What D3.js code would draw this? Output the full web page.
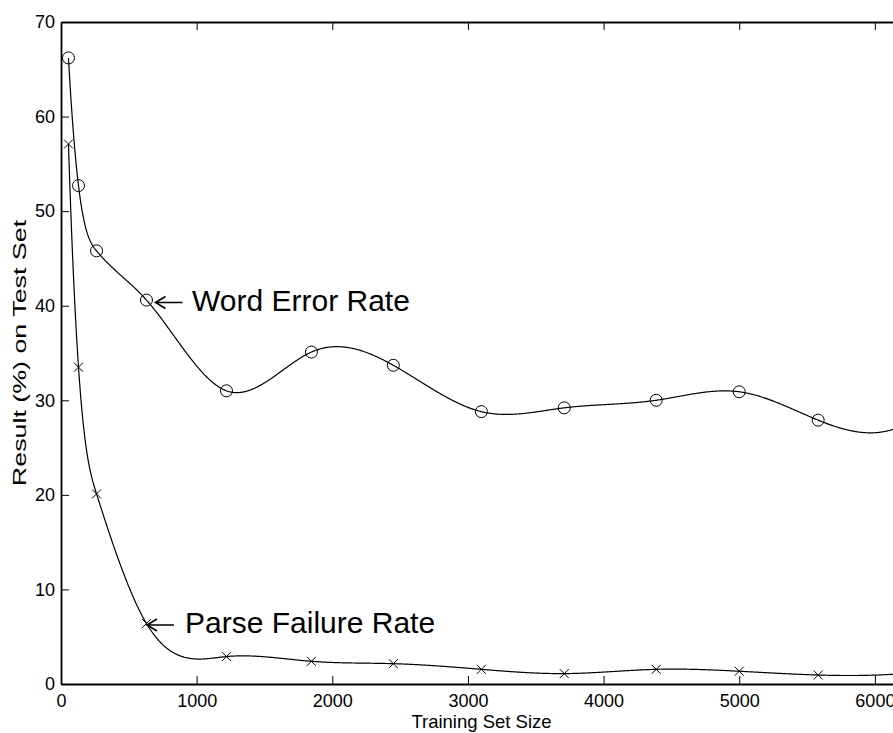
<!DOCTYPE html>
<html>
<head>
<meta charset="utf-8">
<script src="https://cdn.jsdelivr.net/npm/d3@7"></script>
<style>
  html, body { margin: 0; padding: 0; background: #fff; }
  svg { display: block; }
  text { font-family: "Liberation Sans", Arial, Helvetica, sans-serif; fill: #000; }
</style>
</head>
<body>
<svg id="chart" width="893" height="733"></svg>
<script>
// ---- data ----
const trainingSize = [55, 129, 262, 630, 1220, 1846, 2450, 3099, 3710, 4388, 5000, 5582, 6200];
const wordErrorRate = [66.2, 52.7, 45.8, 40.6, 31.0, 35.1, 33.7, 28.8, 29.2, 30.0, 30.9, 27.9, 27.3];
const parseFailureRate = [57.1, 33.5, 20.1, 6.4, 2.9, 2.4, 2.15, 1.55, 1.1, 1.55, 1.35, 0.95, 1.1];
const xTicks = [0, 1000, 2000, 3000, 4000, 5000, 6000];
const yTicks = [0, 10, 20, 30, 40, 50, 60, 70];
const xDomain = [0, 6200];
const yDomain = [0, 70];
const xLabel = "Training Set Size";
const yLabel = "Result (%) on Test Set";
const wordLabel = "Word Error Rate";
const parseLabel = "Parse Failure Rate";

// ---- layout ----
const mLeft = 61, mTop = 22, mRight = 902, mBottom = 684;
const svg = d3.select("#chart");
const x = d3.scaleLinear().domain(xDomain).range([mLeft, mRight]);
const y = d3.scaleLinear().domain(yDomain).range([mBottom, mTop]);

// not-a-knot cubic spline (like MATLAB's spline) used only to draw the smooth line
function splineFn(xs, ys) {
  const n = xs.length;
  const h = [];
  for (let i = 0; i < n - 1; i++) h.push(xs[i + 1] - xs[i]);
  const A = Array.from({length: n}, () => new Array(n).fill(0));
  const b = new Array(n).fill(0);
  A[0][0] = h[1]; A[0][1] = -(h[0] + h[1]); A[0][2] = h[0];
  for (let i = 1; i < n - 1; i++) {
    A[i][i - 1] = h[i - 1];
    A[i][i] = 2 * (h[i - 1] + h[i]);
    A[i][i + 1] = h[i];
    b[i] = 6 * ((ys[i + 1] - ys[i]) / h[i] - (ys[i] - ys[i - 1]) / h[i - 1]);
  }
  A[n - 1][n - 3] = h[n - 2]; A[n - 1][n - 2] = -(h[n - 3] + h[n - 2]); A[n - 1][n - 1] = h[n - 3];
  for (let c = 0; c < n; c++) {
    let p = c;
    for (let r = c + 1; r < n; r++) if (Math.abs(A[r][c]) > Math.abs(A[p][c])) p = r;
    [A[c], A[p]] = [A[p], A[c]]; [b[c], b[p]] = [b[p], b[c]];
    for (let r = c + 1; r < n; r++) {
      const f = A[r][c] / A[c][c];
      if (f === 0) continue;
      for (let k = c; k < n; k++) A[r][k] -= f * A[c][k];
      b[r] -= f * b[c];
    }
  }
  const M = new Array(n).fill(0);
  for (let r = n - 1; r >= 0; r--) {
    let s = b[r];
    for (let k = r + 1; k < n; k++) s -= A[r][k] * M[k];
    M[r] = s / A[r][r];
  }
  return function (t) {
    let i = 0;
    while (i < n - 2 && t > xs[i + 1]) i++;
    const hi = h[i], a = xs[i + 1] - t, bb = t - xs[i];
    return M[i] * a * a * a / (6 * hi) + M[i + 1] * bb * bb * bb / (6 * hi)
      + (ys[i] / hi - M[i] * hi / 6) * a + (ys[i + 1] / hi - M[i + 1] * hi / 6) * bb;
  };
}

function curvePoints(xs, ys) {
  const f = splineFn(xs, ys);
  const pts = [];
  const x0 = xs[0], x1 = xs[xs.length - 1];
  const steps = 1200;
  for (let k = 0; k <= steps; k++) {
    const t = x0 + (x1 - x0) * k / steps;
    pts.push([t, f(t)]);
  }
  return pts;
}

const line = d3.line().x(d => x(d[0])).y(d => y(d[1]));

svg.append("clipPath").attr("id", "plotclip")
  .append("rect").attr("x", mLeft).attr("y", mTop).attr("width", mRight - mLeft).attr("height", mBottom - mTop);

const plot = svg.append("g").attr("clip-path", "url(#plotclip)");

[wordErrorRate, parseFailureRate].forEach(series => {
  plot.append("path")
    .attr("d", line(curvePoints(trainingSize, series)))
    .attr("fill", "none").attr("stroke", "#000").attr("stroke-width", 1.2);
});

plot.selectAll("circle.word").data(trainingSize.map((t, i) => [t, wordErrorRate[i]]))
  .join("circle").attr("class", "word")
  .attr("cx", d => x(d[0])).attr("cy", d => y(d[1])).attr("r", 6)
  .attr("fill", "none").attr("stroke", "#000").attr("stroke-width", 1);

const cs = 4.5;
plot.selectAll("path.parse").data(trainingSize.map((t, i) => [t, parseFailureRate[i]]))
  .join("path").attr("class", "parse")
  .attr("d", d => {
    const cx = x(d[0]), cy = y(d[1]);
    return `M${cx - cs},${cy - cs}L${cx + cs},${cy + cs}M${cx - cs},${cy + cs}L${cx + cs},${cy - cs}`;
  })
  .attr("fill", "none").attr("stroke", "#000").attr("stroke-width", 1);

// ---- axes (box with inward ticks) ----
function styleAxis(g) {
  g.select(".domain").attr("stroke", "#000").attr("stroke-width", 1.8);
  g.selectAll(".tick line").attr("stroke", "#000").attr("stroke-width", 1);
  g.selectAll(".tick text").attr("font-size", 18).attr("font-family", "Liberation Sans, Arial, sans-serif").attr("fill", "#000");
}
svg.append("g").attr("transform", `translate(0,${mBottom})`)
  .call(d3.axisBottom(x).tickValues(xTicks).tickSize(-8).tickSizeOuter(0).tickPadding(10).tickFormat(d3.format("d")))
  .call(styleAxis);
svg.append("g").attr("transform", `translate(0,${mTop})`)
  .call(d3.axisTop(x).tickValues(xTicks).tickSize(-8).tickSizeOuter(0).tickFormat(""))
  .call(styleAxis);
svg.append("g").attr("transform", `translate(${mLeft},0)`)
  .call(d3.axisLeft(y).tickValues(yTicks).tickSize(-8).tickSizeOuter(0).tickPadding(6).tickFormat(d3.format("d")))
  .call(styleAxis);
svg.append("g").attr("transform", `translate(${mRight},0)`)
  .call(d3.axisRight(y).tickValues(yTicks).tickSize(-8).tickSizeOuter(0).tickFormat(""))
  .call(styleAxis);

// axis labels
svg.append("text").attr("x", (mLeft + mRight) / 2).attr("y", 728)
  .attr("text-anchor", "middle").attr("font-size", 18.5).text(xLabel);
svg.append("text").attr("transform", `translate(26,${(mTop + mBottom) / 2}) rotate(-90) scale(1.45,1)`)
  .attr("text-anchor", "middle").attr("font-size", 18.5).text(yLabel);

// annotations: arrow pointing at a marker, then the label
function annotate(tipX, tipY, label, tx, baseline) {
  svg.append("path")
    .attr("d", `M${tipX + 27},${tipY}L${tipX},${tipY}M${tipX + 10},${tipY - 6}L${tipX},${tipY}L${tipX + 10},${tipY + 6}`)
    .attr("fill", "none").attr("stroke", "#000").attr("stroke-width", 1.6);
  svg.append("text").attr("x", tx).attr("y", baseline).attr("font-size", 30).text(label);
}
annotate(x(trainingSize[3]) + 9, y(wordErrorRate[3]) + 2.5, wordLabel, 192, 311);
annotate(x(trainingSize[3]) + 0.5, y(parseFailureRate[3]) + 1.5, parseLabel, 185, 633);
</script>
</body>
</html>
